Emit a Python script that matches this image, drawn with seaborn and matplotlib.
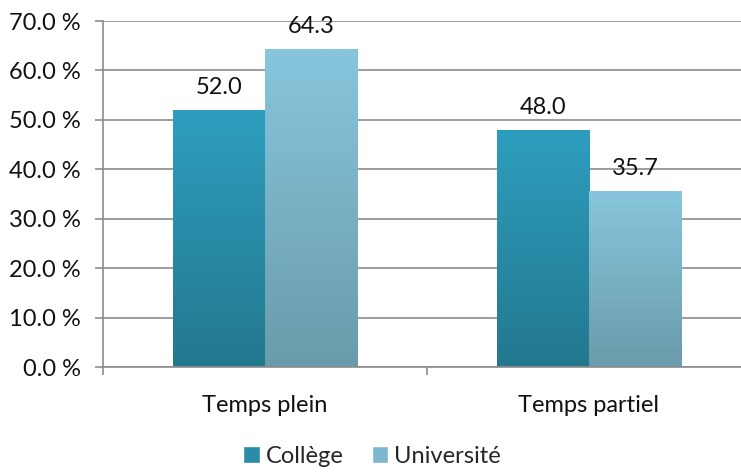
import numpy as np
import pandas as pd
import matplotlib
matplotlib.use("Agg")
import matplotlib.pyplot as plt
import seaborn as sns
from matplotlib.colors import LinearSegmentedColormap
from matplotlib.patches import Patch

categories = ["Temps plein", "Temps partiel"]
series = ["Collège", "Université"]
college = [52.0, 48.0]
universite = [64.3, 35.7]
yticks = [0, 10, 20, 30, 40, 50, 60, 70]

df = pd.DataFrame({
    "cat": categories * 2,
    "serie": [series[0]] * 2 + [series[1]] * 2,
    "val": college + universite,
})

top_cols = {"Collège": "#2E9EBE", "Université": "#87C6DD"}
bot_cols = {"Collège": "#23788F", "Université": "#6A9BAA"}

sns.set_style("white")
plt.rcParams["font.family"] = ["Lato", "DejaVu Sans"]
FS = 17

fig = plt.figure(figsize=(7.41, 4.73), dpi=100)
ax = fig.add_axes([103 / 741, 106 / 473, 648 / 741, 346 / 473])

sns.barplot(data=df, x="cat", y="val", hue="serie", order=categories,
            hue_order=series, palette=top_cols, width=0.57, ax=ax,
            legend=False, saturation=1, errorbar=None)

ax.set_ylim(0, 70)
ax.set_xlim(-0.5, 1.5)

# gradient fill
for cont, s in zip(ax.containers, series):
    cmap = LinearSegmentedColormap.from_list(s, [bot_cols[s], top_cols[s]])
    grad = np.linspace(0, 1, 256).reshape(-1, 1)
    for bar in cont:
        x0, y0 = bar.get_x(), bar.get_y()
        w, h = bar.get_width(), bar.get_height()
        bar.set_facecolor("none")
        bar.set_edgecolor("none")
        im = ax.imshow(grad, cmap=cmap, origin="lower", aspect="auto",
                       extent=[x0, x0 + w, y0, y0 + h], zorder=2)
        im.set_clip_path(bar)
    labels = [f"{v:.1f}" for v in cont.datavalues]
    ax.bar_label(cont, labels=labels, padding=8.5, fontsize=FS, color="#111111")

ax.set_ylim(0, 70)
ax.set_xlim(-0.5, 1.5)
ax.set_yticks(yticks)
ax.set_yticklabels([f"{v:.1f} %" for v in yticks], fontsize=FS, color="#111111")
ax.yaxis.grid(True, color="#8c8c8c", linewidth=1.2)
ax.set_axisbelow(True)

ax.set_xticks([0, 1])
ax.set_xticklabels(categories, fontsize=FS, color="#111111")
ax.set_xticks([-0.5, 0.5, 1.5], minor=True)
ax.tick_params(axis="x", which="major", length=0, pad=20)
ax.tick_params(axis="x", which="minor", length=6, width=1.2, color="#8c8c8c", direction="out", bottom=True)
ax.tick_params(axis="y", length=6, width=1.2, color="#8c8c8c", direction="out", left=True, pad=10)

for side in ["top", "right"]:
    ax.spines[side].set_visible(False)
for side in ["left", "bottom"]:
    ax.spines[side].set_color("#8c8c8c")
    ax.spines[side].set_linewidth(1.2)

ax.set_xlabel("")
ax.set_ylabel("")

handles = [Patch(facecolor="#2A8CA8"), Patch(facecolor="#7DB8CE")]
fig.legend(handles, series, loc="center", bbox_to_anchor=(372 / 741, 1 - 456 / 473),
           ncol=2, frameon=False, fontsize=FS, handlelength=0.7, handleheight=0.7,
           handletextpad=0.25, columnspacing=1.2)

fig.savefig("out.png", dpi=100)
